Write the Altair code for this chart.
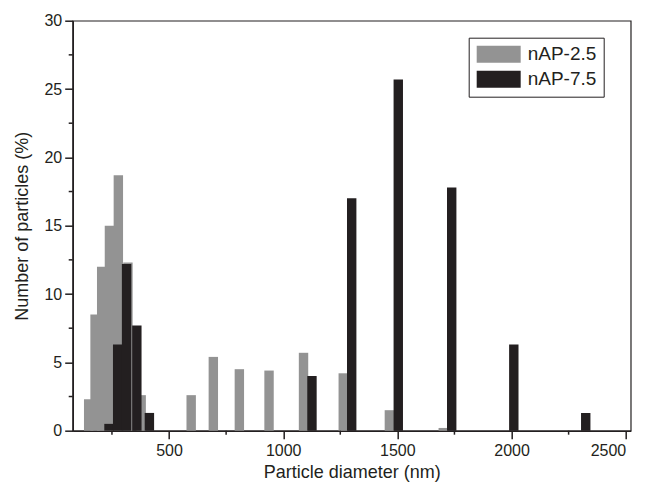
import altair as alt
import pandas as pd

# ---- data ----
series_names = ["nAP-2.5", "nAP-7.5"]
series_colors = ["#939393", "#231f20"]

gray_diam = [148, 176, 205, 239, 278, 320, 378, 597, 694, 808, 938, 1089, 1263, 1465, 1701]
gray_pct = [2.3, 8.5, 12.0, 15.0, 18.7, 12.3, 2.6, 2.6, 5.4, 4.5, 4.4, 5.7, 4.2, 1.5, 0.2]

black_diam = [237, 275, 314, 359, 414, 1126, 1300, 1504, 1738, 2010, 2325]
black_pct = [0.5, 6.3, 12.2, 7.7, 1.3, 4.0, 17.0, 25.7, 17.8, 6.3, 1.3]

x_major = [500, 1000, 1500, 2000, 2500]
x_minor = [250, 750, 1250, 1750, 2250]
y_major = [0, 5, 10, 15, 20, 25, 30]
y_minor = [2.5, 7.5, 12.5, 17.5, 22.5, 27.5]

FONT = "Liberation Sans"
INK = "#231f20"
W, H = 558, 410

df = pd.DataFrame({
    "diameter": gray_diam + black_diam,
    "percent": gray_pct + black_pct,
    "series": [series_names[0]] * len(gray_diam) + [series_names[1]] * len(black_diam),
})

xscale = alt.Scale(domain=[100, 2500], nice=False, zero=False)
yscale = alt.Scale(domain=[0, 30], nice=False)

xaxis = alt.Axis(values=x_major, title="Particle diameter (nm)",
                 tickSize=8, labelPadding=4, titlePadding=5, format="d",
                 labelAlign={"expr": "datum.value >= 2500 ? 'right' : 'center'"})
yaxis = alt.Axis(values=y_major, title="Number of particles (%)",
                 tickSize=8, labelPadding=3, titlePadding=12)

bars = alt.Chart(df).mark_bar(size=9.4).encode(
    x=alt.X("diameter:Q", scale=xscale, axis=xaxis),
    y=alt.Y("percent:Q", scale=yscale, stack=None, axis=yaxis),
    color=alt.Color("series:N", scale=alt.Scale(domain=series_names, range=series_colors),
                    title=None,
                    legend=alt.Legend(orient="none", legendX=396, legendY=17,
                                      symbolType="M-1,-1H4.176V1H-1Z", symbolSize=289,
                                      symbolStrokeWidth=0, symbolOpacity=1,
                                      labelFont=FONT, labelFontSize=19, labelColor=INK,
                                      labelOffset=33, padding=7, rowPadding=5,
                                      strokeColor=INK, fillColor="white")),
)

xminor = alt.Chart(pd.DataFrame({"diameter": x_minor})).mark_rule(color=INK, strokeWidth=1.5).encode(
    x=alt.X("diameter:Q", scale=xscale, axis=xaxis),
    y=alt.value(H), y2=alt.value(H + 4),
)

yminor = alt.Chart(pd.DataFrame({"percent": y_minor})).mark_rule(color=INK, strokeWidth=1.5).encode(
    y=alt.Y("percent:Q", scale=yscale, axis=yaxis),
    x=alt.value(0), x2=alt.value(-4),
)

chart = alt.layer(bars, xminor, yminor).properties(
    width=W, height=H,
    autosize=alt.AutoSizeParams(type="none"),
    padding={"left": 64.7, "top": 12.7, "right": 10.3, "bottom": 52},
).configure_view(
    stroke=INK, strokeWidth=1.2,
).configure_axis(
    grid=False, domainColor=INK, domainWidth=1.6, tickColor=INK, tickWidth=1.5,
    labelFont=FONT, labelFontSize=16, labelColor=INK,
    titleFont=FONT, titleFontSize=18, titleFontWeight="normal", titleColor=INK,
)

chart.save("out.html", embed_options={"renderer": "svg", "actions": False})
